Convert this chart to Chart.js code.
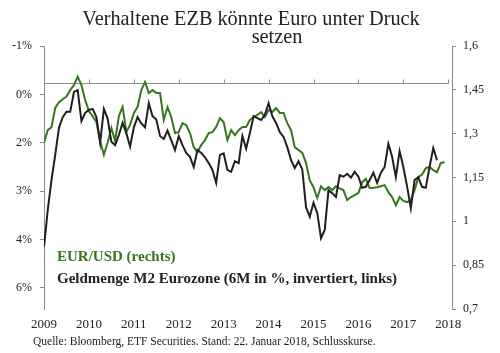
<!DOCTYPE html>
<html>
<head>
<meta charset="utf-8">
<script src="https://cdn.jsdelivr.net/npm/chart.js@4.4.0/dist/chart.umd.min.js"></script>
<style>
  html, body { margin: 0; padding: 0; background: #fff; }
  #wrap { position: relative; width: 500px; height: 353px; font-family: 'Liberation Serif', serif; color: #222; }
  #graficoM2 { position: absolute; left: 0; top: 0; }
  .txt { position: absolute; white-space: nowrap; }
  #titel1 { left: 0; width: 502px; top: 9px; text-align: center; font-size: 20.3px; line-height: 19px; }
  #titel2 { left: 0; width: 554px; top: 27px; text-align: center; font-size: 20.3px; line-height: 19px; }
  #legEur { left: 57px; top: 249px; font-size: 15px; line-height: 15px; font-weight: bold; color: #38761d; }
  #legM2 { left: 57px; top: 271px; font-size: 15px; line-height: 15px; font-weight: bold; color: #222; }
  #quelle { left: 33px; top: 335px; font-size: 11.5px; line-height: 12px; }
</style>
</head>
<body>
<div id="wrap">
  <canvas id="graficoM2" width="500" height="353"></canvas>
  <div class="txt" id="titel1">Verhaltene EZB könnte Euro unter Druck</div>
  <div class="txt" id="titel2">setzen</div>
  <div class="txt" id="legEur">EUR/USD (rechts)</div>
  <div class="txt" id="legM2">Geldmenge M2 Eurozone (6M in %, invertiert, links)</div>
  <div class="txt" id="quelle">Quelle: Bloomberg, ETF Securities. Stand: 22. Januar 2018, Schlusskurse.</div>
</div>
<script>
// Monatswerte ab Januar 2009
const jahre = ['2009', '2010', '2011', '2012', '2013', '2014', '2015', '2016', '2017', '2018'];

// EUR/USD (rechte Achse)
const eurUsd = [
  1.269, 1.312, 1.322, 1.388, 1.408, 1.418, 1.427, 1.449, 1.466, 1.495, 1.466, 1.415,
  1.377, 1.360, 1.340, 1.275, 1.228, 1.270, 1.319, 1.275, 1.360, 1.392, 1.306, 1.330,
  1.370, 1.392, 1.449, 1.477, 1.439, 1.449, 1.439, 1.439, 1.347, 1.391, 1.357, 1.302,
  1.305, 1.336, 1.329, 1.302, 1.254, 1.237, 1.261, 1.278, 1.302, 1.305, 1.323, 1.353,
  1.340, 1.278, 1.312, 1.295, 1.312, 1.323, 1.323, 1.347, 1.357, 1.364, 1.374, 1.357,
  1.381, 1.374, 1.388, 1.371, 1.371, 1.336, 1.312, 1.254, 1.244, 1.234, 1.200, 1.140,
  1.117, 1.080, 1.120, 1.107, 1.117, 1.107, 1.120, 1.113, 1.107, 1.073, 1.083, 1.090,
  1.097, 1.134, 1.145, 1.114, 1.115, 1.117, 1.120, 1.124, 1.100, 1.083, 1.055, 1.083,
  1.070, 1.066, 1.073, 1.107, 1.151, 1.160, 1.182, 1.186, 1.175, 1.168, 1.199, 1.203
];

// Geldmenge M2, 6M-Veraenderung (linke Achse, invertiert)
const m2 = [
  3.15, 2.39, 1.77, 1.25, 0.69, 0.47, 0.36, 0.36, -0.05, -0.09, 0.55, 0.38,
  0.32, 0.30, 0.47, 1.00, 0.30, 0.50, 0.98, 1.05, 0.84, 0.59, 0.80, 1.08,
  0.68, 0.47, 0.60, 0.68, 0.18, 0.45, 0.52, 0.86, 0.92, 0.75, 0.95, 1.15,
  0.86, 1.05, 1.21, 1.29, 1.50, 1.15, 1.21, 1.30, 1.42, 1.56, 1.83, 1.25,
  1.22, 1.56, 1.60, 1.38, 1.42, 0.86, 1.12, 0.80, 0.45, 0.49, 0.53, 0.42,
  0.18, 0.45, 0.59, 0.78, 0.88, 1.09, 1.36, 1.52, 1.38, 1.55, 2.33, 2.53,
  2.24, 2.45, 2.97, 2.80, 1.98, 2.04, 2.12, 1.67, 1.70, 1.64, 1.72, 1.60,
  1.70, 1.93, 1.91, 1.77, 1.62, 1.83, 1.62, 1.50, 1.02, 1.29, 1.71, 1.17,
  1.50, 1.90, 2.35, 1.77, 1.71, 1.91, 1.93, 1.50, 1.11, 1.36
];

const linksTicks = [-1, 0, 1, 2, 3, 4];
const linksLabels = ['-1%', '0%', '2%', '3%', '4%', '6%'];
const rechtsTicks = [0.7, 0.85, 1, 1.15, 1.3, 1.45, 1.6];
const kreuzungEurUsd = 1.4724; // hier schneidet die Zeitachse

const grau = '#8c8c8c';
const schrift = 'Liberation Serif';

// Zeitachse mit Strichen nach oben, wie im Original
const achsenLinie = {
    id: 'achsenLinie',
    beforeDatasetsDraw(chart) {
        const { ctx, scales } = chart;
        const y = Math.round(scales.yRight.getPixelForValue(kreuzungEurUsd)) + 0.5;
        const x0 = scales.x.getPixelForValue(0);
        const x1 = scales.x.getPixelForValue((jahre.length - 1) * 12);
        ctx.save();
        ctx.strokeStyle = grau;
        ctx.lineWidth = 1;
        ctx.beginPath();
        ctx.moveTo(x0, y);
        ctx.lineTo(x1, y);
        scales.x.ticks.forEach(t => {
            const x = Math.round(scales.x.getPixelForValue(t.value)) + 0.5;
            ctx.moveTo(x, y);
            ctx.lineTo(x, y - 4);
        });
        ctx.stroke();
        ctx.restore();
    }
};

const ctx = document.getElementById('graficoM2').getContext('2d');

new Chart(ctx, {
    type: 'line',
    data: {
        datasets: [
            {
                label: 'Geldmenge M2 Eurozone (6M in %, invertiert, links)',
                data: m2.map((v, i) => ({ x: i, y: v })),
                yAxisID: 'yLeft',
                borderColor: '#231f20',
                borderWidth: 2,
                pointRadius: 0,
                tension: 0
            },
            {
                label: 'EUR/USD (rechts)',
                data: eurUsd.map((v, i) => ({ x: i, y: v })),
                yAxisID: 'yRight',
                borderColor: '#38761d',
                borderWidth: 2,
                pointRadius: 0,
                tension: 0
            }
        ]
    },
    options: {
        responsive: false,
        animation: false,
        devicePixelRatio: 1,
        layout: { padding: { top: 46, left: 0, right: 0, bottom: 0 } },
        plugins: {
            legend: { display: false },
            title: { display: false },
            tooltip: { enabled: false }
        },
        scales: {
            x: {
                type: 'linear',
                position: 'bottom',
                min: 0,
                max: 109,
                afterBuildTicks: s => { s.ticks = jahre.map((j, k) => ({ value: k * 12 })); },
                afterFit: s => { s.height = 44; },
                grid: { display: false, drawTicks: false },
                border: { display: false },
                ticks: {
                    autoSkip: false,
                    maxRotation: 0,
                    padding: 8,
                    color: '#222',
                    font: { family: schrift, size: 13 },
                    callback: (v, i) => jahre[i]
                }
            },
            yLeft: {
                type: 'linear',
                position: 'left',
                reverse: true,
                min: -1,
                max: 4.434,
                afterBuildTicks: s => { s.ticks = linksTicks.map(v => ({ value: v })); },
                afterFit: s => { s.width = 44; },
                grid: { drawOnChartArea: false, color: grau, tickLength: 4 },
                border: { color: grau },
                ticks: {
                    padding: 8,
                    color: '#222',
                    font: { family: schrift, size: 12 },
                    callback: (v, i) => linksLabels[i]
                }
            },
            yRight: {
                type: 'linear',
                position: 'right',
                min: 0.7,
                max: 1.6,
                afterBuildTicks: s => { s.ticks = rechtsTicks.map(v => ({ value: v })); },
                afterFit: s => { s.width = 48; },
                grid: { drawOnChartArea: false, color: grau, tickLength: 4 },
                border: { color: grau },
                ticks: {
                    padding: 7,
                    color: '#222',
                    font: { family: schrift, size: 12 },
                    callback: v => String(+v.toFixed(2)).replace('.', ',')
                }
            }
        }
    },
    plugins: [achsenLinie]
});
</script>
</body>
</html>
